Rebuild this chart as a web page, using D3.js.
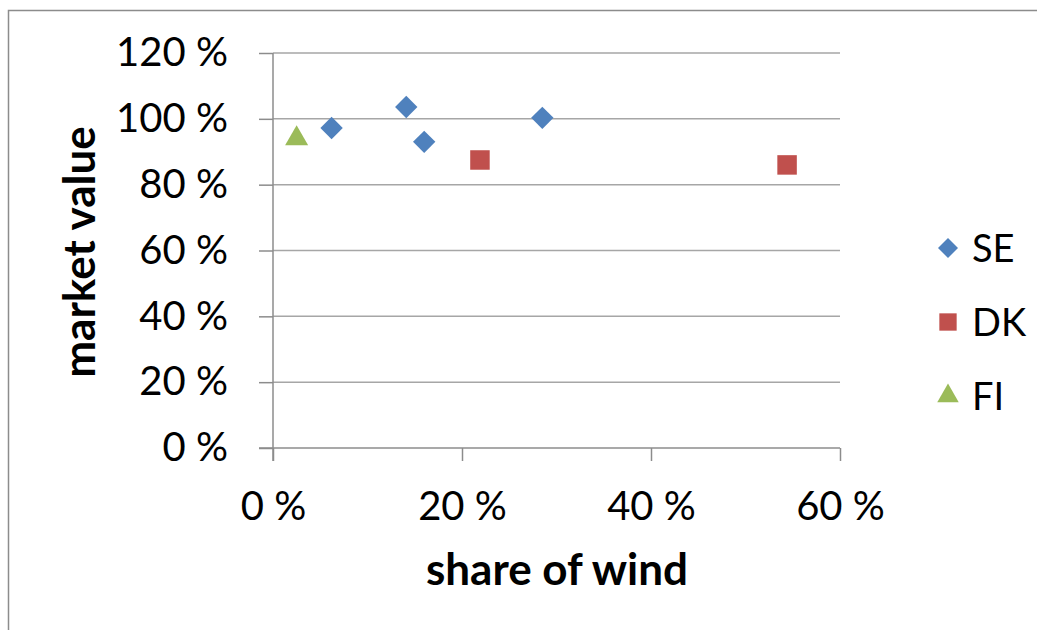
<!DOCTYPE html>
<html>
<head>
<meta charset="utf-8">
<script src="https://cdn.jsdelivr.net/npm/d3@7"></script>
<style>
  html, body { margin: 0; padding: 0; background: #fff; }
  svg { display: block; }
  text { font-family: Lato, "Open Sans", sans-serif; fill: #000; }
</style>
</head>
<body>
<svg id="chart" width="1037" height="630"></svg>
<script>
// Wind share vs. market value, per country (fractions)
const seShare = [0.062, 0.141, 0.160, 0.285];
const seValue = [0.972, 1.036, 0.930, 1.003];
const dkShare = [0.219, 0.544];
const dkValue = [0.875, 0.860];
const fiShare = [0.025];
const fiValue = [0.940];

const xTicks = [0, 0.2, 0.4, 0.6];
const yTicks = [0, 0.2, 0.4, 0.6, 0.8, 1.0, 1.2];
const seriesNames = ["SE", "DK", "FI"];
const seriesColors = ["#4F81BD", "#C0504D", "#9BBB59"];

const svg = d3.select("#chart");

// outer frame of the chart area
svg.append("rect")
  .attr("x", 8.5).attr("y", 10.5)
  .attr("width", 1100).attr("height", 700)
  .attr("fill", "none").attr("stroke", "#8c8c8c").attr("stroke-width", 1.5);

const x = d3.scaleLinear().domain([0, 0.6]).range([273, 840]);
const y = d3.scaleLinear().domain([0, 1.2]).range([448, 53]);
const pct = d => Math.round(d * 100) + " %";

// horizontal gridlines
svg.append("g")
  .selectAll("line")
  .data(yTicks.filter(d => d > 0))
  .join("line")
  .attr("x1", x(0)).attr("x2", x(0.6))
  .attr("y1", d => y(d)).attr("y2", d => y(d))
  .attr("stroke", "#a6a6a6").attr("stroke-width", 1.5);

// y axis
const yAxis = svg.append("g")
  .attr("transform", `translate(${x(0)},0)`)
  .call(d3.axisLeft(y).tickValues(yTicks).tickFormat(pct).tickSize(14).tickPadding(31));
yAxis.select(".domain").attr("stroke", "#8c8c8c").attr("stroke-width", 1.5)
  .attr("d", `M0,${y(1.2)}V${y(0) + 13}`);
yAxis.selectAll(".tick line").attr("stroke", "#8c8c8c").attr("stroke-width", 1.5);
yAxis.selectAll(".tick text").style("font-size", "40px").style("font-family", "Lato, sans-serif").attr("fill", "#000");

// x axis
const xAxis = svg.append("g")
  .attr("transform", `translate(0,${y(0)})`)
  .call(d3.axisBottom(x).tickValues(xTicks).tickFormat(pct).tickSize(13).tickPadding(31));
xAxis.select(".domain").attr("stroke", "#8c8c8c").attr("stroke-width", 1.5)
  .attr("d", `M${x(0) - 14},0H${x(0.6)}`);
xAxis.selectAll(".tick line").attr("stroke", "#8c8c8c").attr("stroke-width", 1.5);
xAxis.selectAll(".tick text").style("font-size", "40px").style("font-family", "Lato, sans-serif").attr("fill", "#000");

// axis titles
svg.append("text")
  .attr("transform", `translate(95,252) rotate(-90)`)
  .attr("text-anchor", "middle")
  .style("font-size", "44px").style("font-weight", "bold")
  .text("market value");
svg.append("text")
  .attr("x", 557).attr("y", 585)
  .attr("text-anchor", "middle")
  .style("font-size", "44px").style("font-weight", "bold")
  .text("share of wind");

// marker shapes
const diamond = d3.symbol().type(d3.symbolSquare).size(250);
const square = d3.symbol().type(d3.symbolSquare).size(380);
const triangle = d3.symbol().type(d3.symbolTriangle).size(230);
const shapes = [
  { path: diamond(), rotate: 45 },
  { path: square(), rotate: 0 },
  { path: triangle(), rotate: 0 }
];

const series = [
  { share: seShare, value: seValue },
  { share: dkShare, value: dkValue },
  { share: fiShare, value: fiValue }
];

series.forEach((s, i) => {
  svg.append("g")
    .selectAll("path")
    .data(s.share.map((d, j) => [d, s.value[j]]))
    .join("path")
    .attr("d", shapes[i].path)
    .attr("transform", d => `translate(${x(d[0])},${y(d[1])}) rotate(${shapes[i].rotate})`)
    .attr("fill", seriesColors[i]);
});

// legend
const legend = svg.append("g");
const legendShapes = [
  d3.symbol().type(d3.symbolSquare).size(200)(),
  d3.symbol().type(d3.symbolSquare).size(300)(),
  d3.symbol().type(d3.symbolTriangle).size(200)()
];
seriesNames.forEach((name, i) => {
  const ly = 248 + i * 74;
  legend.append("path")
    .attr("d", legendShapes[i])
    .attr("transform", `translate(948,${ly}) rotate(${shapes[i].rotate})`)
    .attr("fill", seriesColors[i]);
  legend.append("text")
    .attr("x", 972).attr("y", ly + 14)
    .style("font-size", "38px")
    .text(name);
});
</script>
</body>
</html>
